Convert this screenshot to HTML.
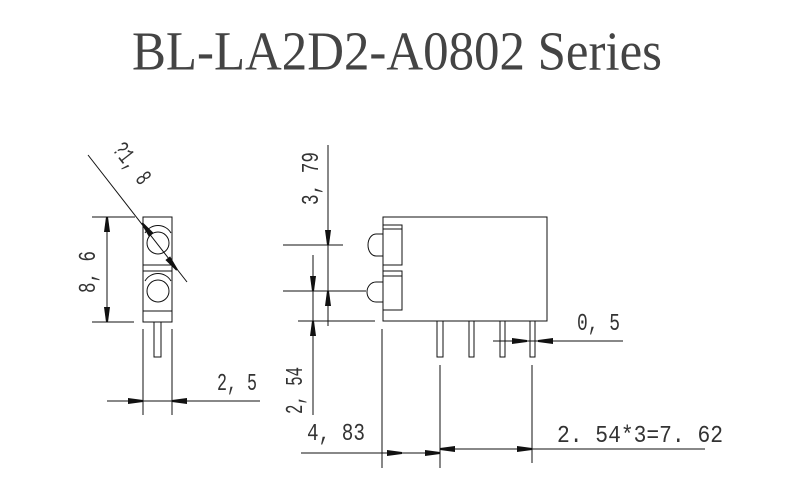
<!DOCTYPE html>
<html><head><meta charset="utf-8"><style>
html,body{margin:0;padding:0;background:#fff;}
svg{display:block;}
text{font-family:"Liberation Serif",serif;fill:#333;}
.m text{font-family:"Liberation Mono",monospace;}
</style></head><body>
<svg width="800" height="500" viewBox="0 0 800 500" xmlns="http://www.w3.org/2000/svg">
<defs>
<polygon id="ar" points="-15,-3 0,-1 0,1 -15,3" fill="#111"/>
</defs>
<text x="132" y="69" font-size="48" textLength="530" lengthAdjust="spacingAndGlyphs" transform="translate(0,-10) scale(1,1.15)" style="transform-origin:0 0;fill:#444">BL-LA2D2-A0802 Series</text>

<g stroke="#111" stroke-width="1" fill="none">
<rect x="143" y="217" width="29" height="105"/>
<line x1="143" y1="265" x2="172" y2="265"/>
<line x1="143" y1="271" x2="172" y2="271"/>
<line x1="143" y1="311" x2="172" y2="311"/>
<circle cx="158" cy="243" r="11"/>
<circle cx="158" cy="291" r="11"/>
<path d="M145,233 A15,15 0 0 1 171,233" />
<path d="M145,281 A15,15 0 0 1 171,281" />
<rect x="154" y="322" width="7" height="35"/>
<line x1="92" y1="217" x2="135" y2="217"/>
<line x1="92" y1="322" x2="134" y2="322"/>
<line x1="107" y1="217" x2="107" y2="322"/>
<line x1="88" y1="155" x2="187" y2="282"/>
<line x1="143" y1="329" x2="143" y2="415"/>
<line x1="172" y1="329" x2="172" y2="415"/>
<line x1="107" y1="401" x2="260" y2="401"/>

<rect x="383" y="217" width="164" height="104"/>
<rect x="383" y="225" width="19" height="40"/>
<line x1="383" y1="229" x2="402" y2="229"/>
<rect x="383" y="271" width="19" height="39"/>
<line x1="383" y1="276" x2="402" y2="276"/>
<path d="M383,234 L376,234 A8,11 0 0 0 376,256 L383,256"/>
<path d="M383,282 L376,282 A9,10 0 0 0 376,302 L383,302"/>
<rect x="437" y="321" width="6" height="36"/>
<rect x="469" y="321" width="5" height="36"/>
<rect x="500" y="321" width="5" height="36"/>
<rect x="530" y="321" width="5" height="36"/>
<line x1="283" y1="245" x2="343" y2="245"/>
<line x1="283" y1="291" x2="366" y2="291"/>
<line x1="298" y1="321" x2="375" y2="321"/>
<line x1="328" y1="145" x2="328" y2="326"/>
<line x1="313" y1="255" x2="313" y2="415"/>
<line x1="493" y1="341" x2="623" y2="341"/>
<line x1="382" y1="329" x2="382" y2="468"/>
<line x1="440" y1="365" x2="440" y2="468"/>
<line x1="532" y1="365" x2="532" y2="463"/>
<line x1="301" y1="453" x2="440" y2="453"/>
<line x1="440" y1="449" x2="705" y2="449"/>
</g>

<g>
<use href="#ar" transform="translate(107,217) rotate(270)"/>
<use href="#ar" transform="translate(107,322) rotate(90)"/>
<use href="#ar" transform="translate(142,223) rotate(232)"/>
<use href="#ar" transform="translate(177,270) rotate(52)"/>
<use href="#ar" transform="translate(143,401) rotate(0)"/>
<use href="#ar" transform="translate(172,401) rotate(180)"/>
<use href="#ar" transform="translate(328,245) rotate(90)"/>
<use href="#ar" transform="translate(328,291) rotate(270)"/>
<use href="#ar" transform="translate(313,291) rotate(90)"/>
<use href="#ar" transform="translate(313,321) rotate(270)"/>
<use href="#ar" transform="translate(527,341) rotate(0)"/>
<use href="#ar" transform="translate(538,341) rotate(180)"/>
<use href="#ar" transform="translate(402,453) rotate(0)"/>
<use href="#ar" transform="translate(440,453) rotate(0)"/>
<use href="#ar" transform="translate(440,449) rotate(180)"/>
<use href="#ar" transform="translate(532,449) rotate(0)"/>
</g>

<g font-size="24" class="m">
<text x="217" y="390" textLength="40" lengthAdjust="spacingAndGlyphs">2, 5</text>
<text x="577" y="330" textLength="43" lengthAdjust="spacingAndGlyphs">0, 5</text>
<text x="307" y="440" textLength="58" lengthAdjust="spacingAndGlyphs">4, 83</text>
<text x="557" y="442" textLength="166" lengthAdjust="spacingAndGlyphs">2. 54*3=7. 62</text>
<text transform="translate(95,293) rotate(-90)" textLength="42" lengthAdjust="spacingAndGlyphs">8, 6</text>
<text transform="translate(318,205) rotate(-90)" textLength="53" lengthAdjust="spacingAndGlyphs">3, 79</text>
<text transform="translate(302,414) rotate(-90)" textLength="47" lengthAdjust="spacingAndGlyphs">2, 54</text>
<text transform="translate(112,150) rotate(52)" textLength="46" lengthAdjust="spacingAndGlyphs">?1, 8</text>
</g>
</svg>
</body></html>
